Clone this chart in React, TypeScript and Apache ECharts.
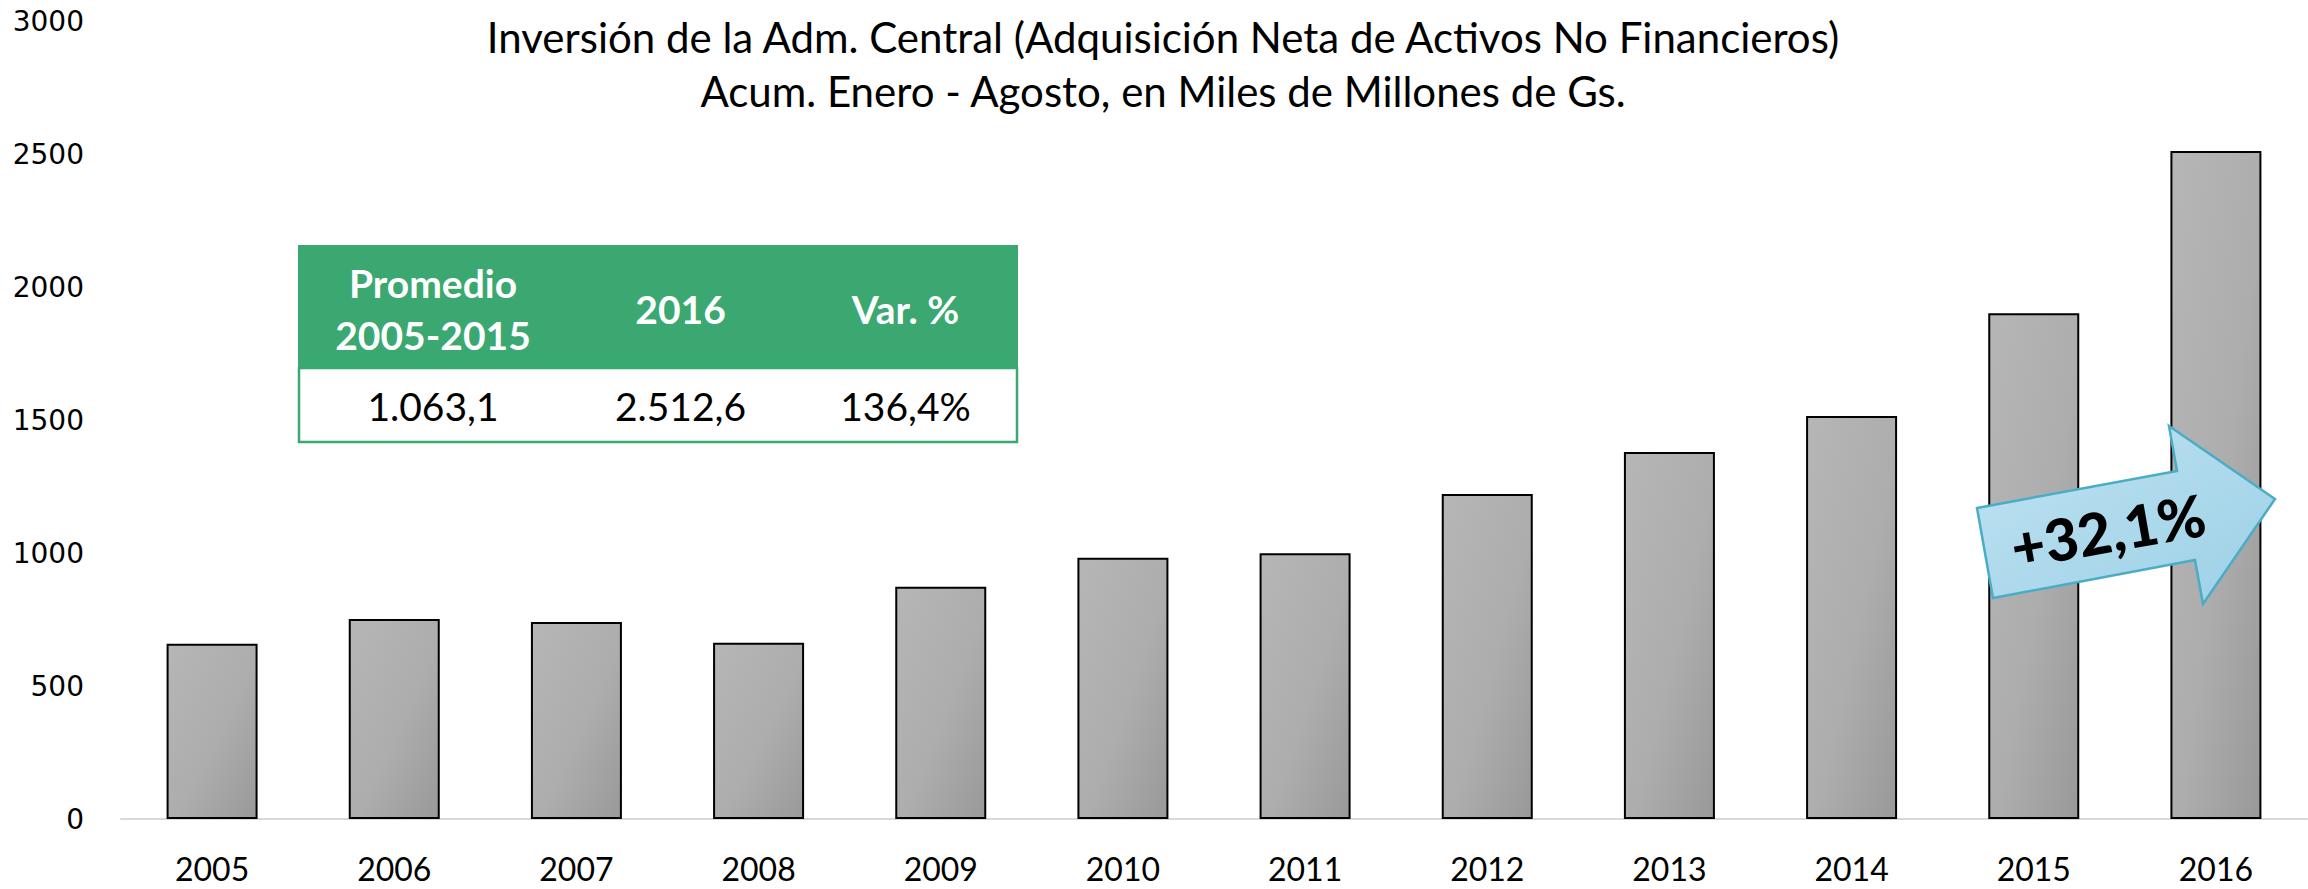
import React, { useEffect, useRef } from 'react';
import * as echarts from 'echarts';

const years = ['2005', '2006', '2007', '2008', '2009', '2010', '2011', '2012', '2013', '2014', '2015', '2016'];
const values = [659, 752, 741, 663, 874, 983, 1000, 1222, 1380, 1516, 1902, 2512.6];
const yMin = 0;
const yMax = 3000;
const yInterval = 500;

const titleLines = [
  'Inversión de la Adm. Central (Adquisición Neta de Activos No Financieros)',
  'Acum. Enero - Agosto, en Miles de Millones de Gs.',
];
const tableHeaders = ['Promedio\n2005-2015', '2016', 'Var. %'];
const tableValues = ['1.063,1', '2.512,6', '136,4%'];
const arrowLabel = '+32,1%';

const GREEN = '#3AA870';

function buildTable() {
  const left = 298;
  const top = 245;
  const headH = 123;
  const rowH = 75;
  const colW = [270, 225, 225];
  const totalW = colW.reduce((a, b) => a + b, 0);
  const els: any[] = [];
  els.push({
    type: 'rect',
    z: 100,
    shape: { x: left, y: top, width: totalW, height: headH },
    style: { fill: GREEN },
  });
  els.push({
    type: 'rect',
    z: 100,
    shape: { x: left + 1, y: top + headH, width: totalW - 2, height: rowH - 1 },
    style: { fill: '#fff', stroke: GREEN, lineWidth: 2.5 },
  });
  let x = left;
  for (let i = 0; i < colW.length; i++) {
    const cx = x + colW[i] / 2;
    els.push({
      type: 'text',
      z: 101,
      x: cx,
      y: top + headH / 2 + 2,
      style: {
        text: tableHeaders[i],
        align: 'center',
        verticalAlign: 'middle',
        fill: '#fff',
        font: 'bold 39px Lato',
        lineHeight: 52,
      },
    });
    els.push({
      type: 'text',
      z: 101,
      x: cx,
      y: top + headH + rowH / 2,
      style: {
        text: tableValues[i],
        align: 'center',
        verticalAlign: 'middle',
        fill: '#000',
        font: '39px Lato',
      },
    });
    x += colW[i];
  }
  return els;
}

function buildArrow() {
  const pts = [
    [1977, 508],
    [2177, 471],
    [2169, 426],
    [2275, 499],
    [2203, 604],
    [2195, 560],
    [1993, 598],
  ];
  return [
    {
      type: 'polygon',
      z: 100,
      shape: { points: pts },
      style: {
        fill: new echarts.graphic.LinearGradient(0, 0, 1, 1, [
          { offset: 0, color: '#bfe3f2' },
          { offset: 1, color: '#9dd0e6' },
        ]),
        stroke: '#4BACC6',
        lineWidth: 2.5,
      },
    },
    {
      type: 'text',
      z: 101,
      x: 2108,
      y: 530,
      rotation: (10 * Math.PI) / 180,
      style: {
        text: arrowLabel,
        align: 'center',
        verticalAlign: 'middle',
        fill: '#000',
        font: '900 58px Lato',
      },
    },
  ];
}

export default function App() {
  const ref = useRef<HTMLDivElement>(null);
  useEffect(() => {
    const chart = echarts.init(ref.current!, null, { renderer: 'svg' });
    const option: any = {
      animation: false,
      backgroundColor: '#fff',
      title: {
        text: titleLines.join('\n'),
        left: 1163,
        top: 10,
        padding: 0,
        textAlign: 'center',
        textStyle: {
          fontFamily: 'Lato',
          fontSize: 42,
          fontWeight: 'normal',
          color: '#000',
          lineHeight: 54,
        },
      },
      grid: { left: 121, right: 1, top: 21.4, bottom: 70, containLabel: false },
      xAxis: {
        type: 'category',
        data: years,
        axisLine: { show: true, lineStyle: { color: '#d9d9d9', width: 2 } },
        axisTick: { show: false },
        axisLabel: { margin: 33, fontFamily: 'Lato', fontSize: 32, color: '#000' },
      },
      yAxis: {
        type: 'value',
        min: yMin,
        max: yMax,
        interval: yInterval,
        axisLine: { show: false },
        axisTick: { show: false },
        splitLine: { show: false },
        axisLabel: {
          margin: 37,
          fontFamily: 'DejaVu Sans',
          fontSize: 28,
          color: '#000',
          formatter: (v: number) => String(v),
        },
      },
      series: [
        {
          type: 'bar',
          data: values,
          barWidth: 91,
          itemStyle: {
            color: new echarts.graphic.LinearGradient(0, 0, 1, 1, [
              { offset: 0, color: '#b6b6b6' },
              { offset: 0.55, color: '#adadad' },
              { offset: 1, color: '#999999' },
            ]),
            borderColor: '#000',
            borderWidth: 2,
          },
        },
      ],
      graphic: [...buildTable(), ...buildArrow()],
    };
    chart.setOption(option);
    return () => chart.dispose();
  }, []);
  return (
    <div
      ref={ref}
      style={{ position: 'fixed', left: 0, top: 0, width: 2308, height: 889, background: '#fff' }}
    />
  );
}
